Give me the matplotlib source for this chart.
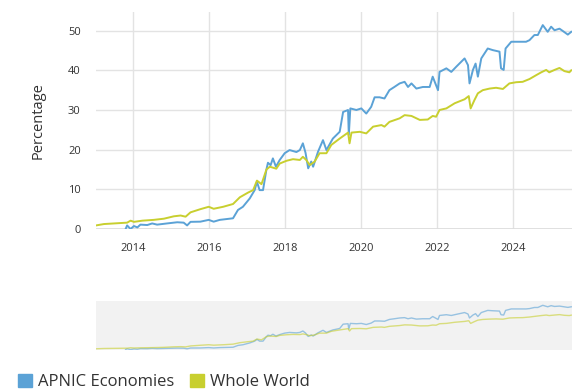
#!/usr/bin/env python

import matplotlib
matplotlib.use('Agg')
from matplotlib import pyplot as plt
from matplotlib.patches import Patch

plt.rcParams['font.family'] = ['Open Sans', 'DejaVu Sans']

# decimal years / percentage
apnic_t = [2013.80, 2013.84, 2013.93, 2014.02, 2014.11, 2014.19, 2014.37, 2014.50,
           2014.63, 2014.89, 2015.16, 2015.33, 2015.42, 2015.51, 2015.77, 2015.99,
           2016.12, 2016.28, 2016.63, 2016.76, 2016.89, 2017.07, 2017.20, 2017.26,
           2017.33, 2017.42, 2017.51, 2017.55, 2017.62, 2017.68, 2017.76, 2017.86,
           2017.99, 2018.12, 2018.30, 2018.39, 2018.47, 2018.54, 2018.61, 2018.69,
           2018.74, 2018.87, 2019.00, 2019.09, 2019.26, 2019.44, 2019.53, 2019.66,
           2019.68, 2019.72, 2019.88, 2020.01, 2020.14, 2020.27, 2020.36, 2020.49,
           2020.62, 2020.75, 2020.88, 2021.02, 2021.15, 2021.24, 2021.33, 2021.46,
           2021.63, 2021.81, 2021.89, 2022.03, 2022.07, 2022.25, 2022.38, 2022.51,
           2022.73, 2022.82, 2022.86, 2022.95, 2023.02, 2023.08, 2023.17, 2023.34,
           2023.47, 2023.65, 2023.69, 2023.76, 2023.81, 2023.96, 2024.18, 2024.35,
           2024.44, 2024.57, 2024.66, 2024.79, 2024.92, 2025.01, 2025.10, 2025.23,
           2025.32, 2025.45, 2025.54]
apnic_v = [0.0, 0.9, 0.0, 0.75, 0.4, 1.1, 1.0, 1.4,
           1.1, 1.4, 1.7, 1.6, 0.9, 1.8, 1.85, 2.3,
           1.85, 2.3, 2.7, 4.8, 5.6, 7.7, 9.8, 11.9,
           9.8, 9.8, 15.0, 16.7, 16.1, 17.8, 15.7, 17.4,
           19.1, 19.9, 19.4, 19.9, 21.6, 19.2, 15.3, 17.0,
           15.7, 19.5, 22.4, 19.9, 22.8, 24.5, 29.5, 30.0,
           23.7, 30.4, 30.0, 30.4, 29.1, 30.8, 33.2, 33.2,
           32.9, 35.0, 35.8, 36.7, 37.1, 35.8, 36.7, 35.4,
           35.8, 35.8, 38.4, 35.0, 39.6, 40.5, 39.6, 40.9,
           43.0, 41.3, 36.7, 40.1, 41.7, 38.4, 43.0, 45.5,
           45.1, 44.7, 40.5, 40.1, 45.5, 47.2, 47.2, 47.2,
           47.6, 48.9, 48.9, 51.4, 49.7, 51.0, 50.1, 50.5,
           49.9, 49.0, 49.7]

world_t = [2013.02, 2013.23, 2013.84, 2013.93, 2014.02, 2014.24, 2014.54, 2014.81,
           2015.07, 2015.25, 2015.38, 2015.51, 2015.77, 2015.99, 2016.12, 2016.37,
           2016.63, 2016.81, 2017.03, 2017.16, 2017.26, 2017.38, 2017.51, 2017.60,
           2017.77, 2017.86, 2018.04, 2018.21, 2018.39, 2018.47, 2018.56, 2018.65,
           2018.78, 2018.91, 2019.09, 2019.22, 2019.44, 2019.66, 2019.70, 2019.75,
           2019.97, 2020.14, 2020.32, 2020.54, 2020.62, 2020.75, 2021.02, 2021.15,
           2021.33, 2021.55, 2021.76, 2021.89, 2021.98, 2022.07, 2022.25, 2022.47,
           2022.73, 2022.84, 2022.89, 2022.99, 2023.08, 2023.21, 2023.39, 2023.56,
           2023.74, 2023.91, 2024.09, 2024.26, 2024.44, 2024.62, 2024.75, 2024.88,
           2024.96, 2025.10, 2025.23, 2025.36, 2025.49, 2025.54]
world_v = [0.9, 1.25, 1.6, 2.1, 1.8, 2.1, 2.3, 2.6,
           3.2, 3.4, 3.1, 4.2, 5.0, 5.6, 5.1, 5.6,
           6.3, 8.0, 9.2, 9.8, 12.2, 11.3, 15.0, 15.7,
           15.2, 16.5, 17.2, 17.6, 17.4, 18.2, 17.4, 16.1,
           17.0, 19.1, 19.1, 21.2, 22.8, 24.3, 21.6, 24.3,
           24.5, 24.1, 25.8, 26.2, 25.8, 27.0, 27.9, 28.7,
           28.5, 27.5, 27.6, 28.5, 28.3, 30.0, 30.4, 31.7,
           32.7, 33.5, 30.4, 32.5, 34.2, 35.0, 35.4, 35.6,
           35.3, 36.7, 37.0, 37.1, 37.8, 38.8, 39.5, 40.1,
           39.5, 40.1, 40.6, 39.8, 39.5, 40.0]

years = [2014, 2016, 2018, 2020, 2022, 2024]
blue = '#5ba2d6'
green = '#c8cf2f'
grid = '#e3e3e3'
txt = '#333333'

W, H = 583, 391
fig = plt.figure(figsize=(W / 100, H / 100), dpi=100)

# main chart
ax = fig.add_axes([96 / W, 1 - 229 / H, 476 / W, 217 / H])
ax.plot(apnic_t, apnic_v, color=blue, lw=1.4, zorder=3)
ax.plot(world_t, world_v, color=green, lw=1.4, zorder=3)
ax.set_xlim(2013.02, 2025.56)
ax.set_ylim(0, 54.7)
ax.set_xticks(years)
ax.set_xticklabels([str(y) for y in years])
ax.set_yticks(range(0, 51, 10))
ax.grid(True, color=grid, lw=1)
ax.axhline(0, color='#dddddd', lw=2, zorder=2)
for s in ax.spines.values():
    s.set_visible(False)
ax.tick_params(axis='both', length=0, labelsize=8, labelcolor=txt)
ax.tick_params(axis='y', pad=11)
ax.tick_params(axis='x', pad=10)
ax.set_ylabel('Percentage', fontsize=10.5, color=txt, va='center')
ax.yaxis.set_label_coords(-0.122, 0.5)

# navigator strip
nav = fig.add_axes([96 / W, 1 - 350 / H, 476 / W, 49.5 / H])
nav.set_facecolor('#f2f2f2')
nav.plot(apnic_t, apnic_v, color=blue, lw=1, alpha=0.6)
nav.plot(world_t, world_v, color=green, lw=1, alpha=0.6)
nav.set_xlim(2013.02, 2025.56)
nav.set_ylim(-0.5, 57)
nav.set_xticks([])
nav.set_yticks([])
for s in nav.spines.values():
    s.set_visible(False)

fig.legend(handles=[Patch(color=blue), Patch(color=green)],
           labels=['APNIC Economies', 'Whole World'],
           loc='center left', bbox_to_anchor=(18 / W, 1 - 382 / H),
           ncol=2, frameon=False, fontsize=12, labelcolor=txt,
           handlelength=0.85, handleheight=0.85, handletextpad=0.35,
           columnspacing=0.95, borderpad=0, borderaxespad=0)

plt.savefig('out.png', dpi=100)
